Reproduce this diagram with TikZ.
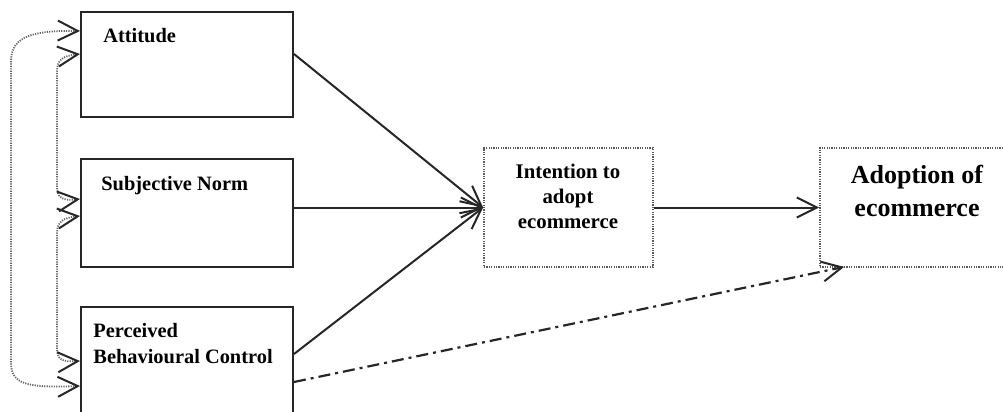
\documentclass[tikz,border=0pt]{standalone}
\usepackage{fontspec}
\setmainfont{Liberation Serif}
\usetikzlibrary{arrows.meta,calc}
\tikzset{
  solidbox/.style={draw=black!85, line width=1pt, inner sep=0pt},
  dotbox/.style={draw=black!65, line width=0.9pt, dash pattern=on 0.6pt off 0.6pt, inner sep=0pt},
  lbl/.style={font=\bfseries\fontsize{10.2}{13}\selectfont, inner sep=0pt, align=left},
  clbl/.style={font=\bfseries\fontsize{10.4}{12.5}\selectfont, inner sep=0pt, align=center},
  blbl/.style={font=\bfseries\fontsize{13}{16.5}\selectfont, inner sep=0pt, align=center},
  tipA/.tip={Straight Barb[length=10pt,width=10pt,line width=1pt,color=black!85]},
  barb/.style={-tipA},
  dbarb/.style={tipA-tipA},
  conn/.style={barb, draw=black!85, line width=1pt},
  corr/.style={dbarb, draw=black!60, line width=0.9pt, dash pattern=on 0.6pt off 0.6pt},
  dashdot/.style={barb, draw=black!85, line width=1.1pt, dash pattern=on 6pt off 2.5pt on 1.5pt off 2.5pt},
}
\begin{document}
\begin{tikzpicture}[x=0.5pt,y=-0.5pt]
\useasboundingbox (0,0) rectangle (1003,412);
\clip (0,0) rectangle (1003,412);
% boxes
\node[solidbox, minimum width=106pt, minimum height=52.5pt] (att) at (187,64.5) {};
\node[solidbox, minimum width=106pt, minimum height=54pt] (sn) at (187,213) {};
\node[solidbox, minimum width=106pt, minimum height=60pt] (pbc) at (187,367) {};
\node[dotbox, minimum width=84.5pt, minimum height=59.5pt] (int) at (568.5,207.5) {};
\node[dotbox, minimum width=100pt, minimum height=59.5pt] (ado) at (920,207.5) {};
% labels
\node[lbl, anchor=base west] (tatt) at (103,42) {Attitude};
\node[lbl, anchor=base west] (tsn) at (101,190) {Subjective Norm};
\node[lbl, anchor=base west] (tpbc) at (93,363) {Perceived\\Behavioural Control};
\node[clbl, anchor=base] (tint) at (568,228) {Intention to\\adopt\\ecommerce};
\node[blbl, anchor=base] (tado) at (917,216) {Adoption of\\ecommerce};
% connectors
\coordinate (attE) at ($(att.north east)+(0,43)$);
\coordinate (pbcE) at ($(pbc.north east)+(0,48)$);
\coordinate (pbcE2) at ($(pbc.north east)+(0,76)$);
\coordinate (adoT) at ($(ado.south west)+(25,-1)$);
\draw[conn] (attE) -- (int.west);
\draw[conn] (sn.east |- int.west) -- (int.west);
\draw[conn] (pbcE) -- (int.west);
\draw[conn] (int.east) -- (ado.west);
\draw[dashdot] (pbcE2) -- (adoT);
% correlations (left)
\coordinate (a1) at ($(att.north west)+(0,20)$);
\coordinate (a2) at ($(att.north west)+(0,43)$);
\coordinate (s1) at ($(sn.north west)+(0,41)$);
\coordinate (s2) at ($(sn.north west)+(0,58)$);
\coordinate (p1) at ($(pbc.north west)+(0,55)$);
\coordinate (p2) at ($(pbc.north west)+(0,80)$);
\draw[corr] (a1) .. controls (25,30) and (11,40) .. (11,62) -- (11,362)
  .. controls (11,384) and (25,388) .. (p2);
\draw[corr] (a2) .. controls (62,56) and (57,60) .. (57,72) -- (57,186)
  .. controls (57,198) and (62,201) .. (s1);
\draw[corr] (s2) .. controls (62,218) and (57,222) .. (57,234) -- (57,348)
  .. controls (57,360) and (62,362) .. (p1);
\end{tikzpicture}
\end{document}
